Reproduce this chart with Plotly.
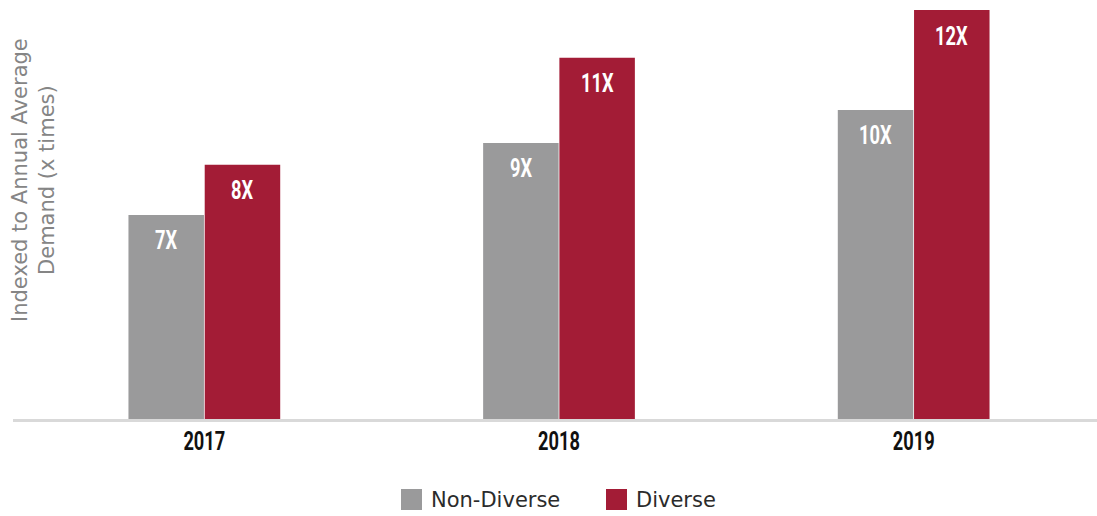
import plotly.graph_objects as go

years = ["2017", "2018", "2019"]
non_diverse = [7.0, 9.47, 10.60]
diverse = [8.72, 12.39, 14.03]
non_diverse_labels = ["7X", "9X", "10X"]
diverse_labels = ["8X", "11X", "12X"]

GRAY = "#9a9a9b"
RED = "#a31c36"

fig = go.Figure()
fig.add_trace(go.Bar(name="Non-Diverse", x=years, y=non_diverse, marker=dict(color=GRAY, line=dict(width=0)),
                     showlegend=False, hoverinfo="skip"))
fig.add_trace(go.Bar(name="Diverse", x=years, y=diverse, marker=dict(color=RED, line=dict(width=0)),
                     showlegend=False, hoverinfo="skip"))

COND = "Roboto, DejaVu Sans, sans-serif"
label_font = dict(family=COND, size=25, color="white", weight="bold")
for i, (v, t) in enumerate(zip(non_diverse, non_diverse_labels)):
    fig.add_annotation(x=i, y=v, text=t, showarrow=False, xshift=-38, yshift=-26,
                       font=label_font, xanchor="center", yanchor="middle", name="barlabel")
for i, (v, t) in enumerate(zip(diverse, diverse_labels)):
    fig.add_annotation(x=i, y=v, text=t, showarrow=False, xshift=38, yshift=-26,
                       font=label_font, xanchor="center", yanchor="middle", name="barlabel")

W, H = 1097, 516
L, R, T, B = 27, 6, 10, 97
pw, ph = W - L - R, H - T - B

def px_x(x):
    return (x - L) / pw

def px_y(y):
    return (H - B - y) / ph

# baseline
fig.add_shape(type="rect", xref="paper", yref="paper", x0=px_x(13), x1=px_x(1097), y0=px_y(422), y1=px_y(419),
              fillcolor="#d9d9d9", line=dict(width=0), layer="below")

# y-axis title
fig.add_annotation(xref="paper", yref="paper", x=px_x(33), y=px_y(180), text="Indexed to Annual Average<br>Demand (x times)",
                   textangle=-90, showarrow=False, xanchor="center", yanchor="middle",
                   font=dict(family="DejaVu Sans, sans-serif", size=21, color="#858585"))

# custom legend
legend_items = [("Non-Diverse", GRAY, 401), ("Diverse", RED, 606)]
for name, col, x0 in legend_items:
    fig.add_shape(type="rect", xref="paper", yref="paper", x0=px_x(x0), x1=px_x(x0 + 21),
                  y0=px_y(510), y1=px_y(489), fillcolor=col, line=dict(width=0))
    fig.add_annotation(xref="paper", yref="paper", x=px_x(x0 + 28), y=px_y(500), text=name, showarrow=False,
                       xanchor="left", yanchor="middle",
                       font=dict(family="DejaVu Sans, sans-serif", size=21, color="#2b2b2b"))

fig.update_layout(
    width=W, height=H,
    margin=dict(l=L, r=R, t=T, b=B, pad=0),
    plot_bgcolor="white", paper_bgcolor="white",
    barmode="group", bargap=0.57, bargroupgap=0.01,
    showlegend=False,
    xaxis=dict(type="category", range=[-0.5, 2.5], autorange=False, showgrid=False, zeroline=False,
               showline=False, ticks="",
               tickfont=dict(family=COND, size=25, color="#111111", weight="bold"),
               ticklabelstandoff=5),
    yaxis=dict(range=[0, 14.03], autorange=False, showgrid=False, zeroline=False, showline=False,
               showticklabels=False, ticks=""),
)

post = """
document.body.style.margin='0px';
document.body.style.overflow='hidden';
var gd = document.getElementById('{plot_id}');
function squeeze(t, ratio) {
  var w = t.getComputedTextLength();
  t.setAttribute('textLength', (w * ratio).toFixed(2));
  t.setAttribute('lengthAdjust', 'spacingAndGlyphs');
}
gd.querySelectorAll('.xtick text').forEach(function(t){ squeeze(t, 0.73); });
gd.querySelectorAll('.annotation-text').forEach(function(t){
  if (/^[0-9]+X$/.test(t.textContent)) { squeeze(t, 0.73); }
});
"""

fig.write_html("out.html", config={"displayModeBar": False}, post_script=post)
